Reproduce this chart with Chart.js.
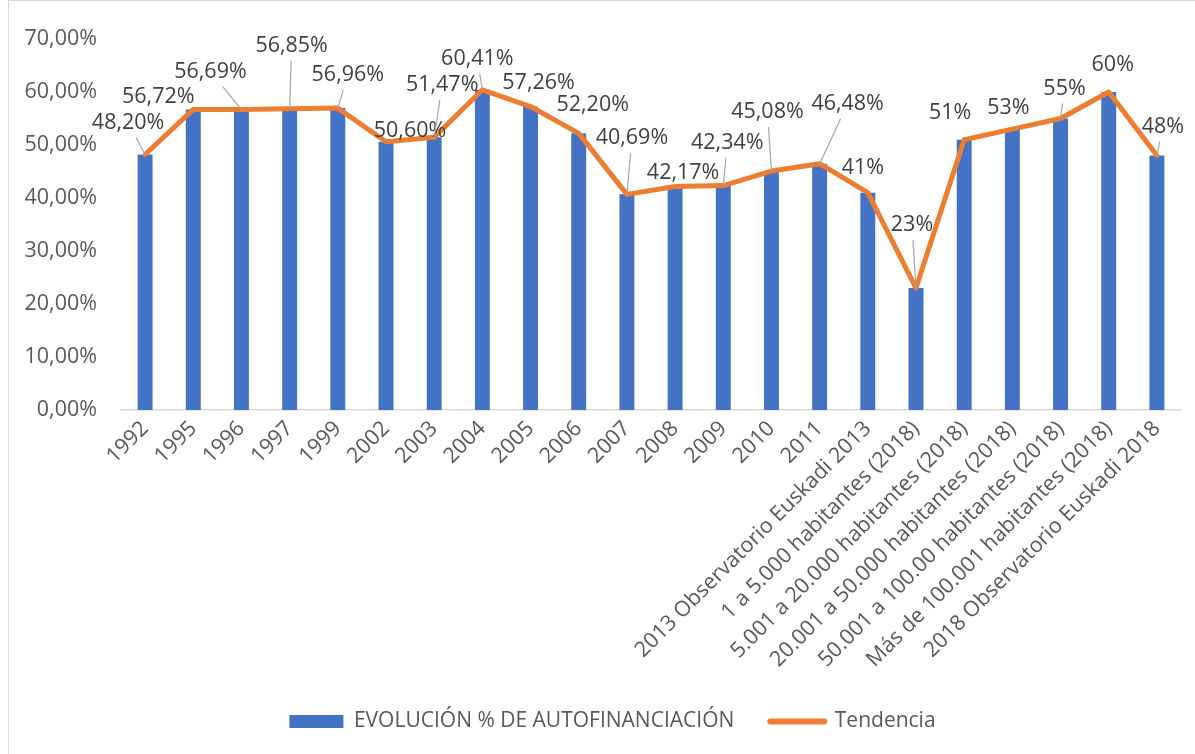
<!DOCTYPE html>
<html>
<head>
<meta charset="utf-8">
<script src="https://cdn.jsdelivr.net/npm/chart.js@4.4.1/dist/chart.umd.min.js"></script>
<style>
  html, body { margin: 0; padding: 0; background: #fff; }
  #wrap { position: relative; width: 1195px; height: 754px; overflow: hidden; }
  #frame { position: absolute; left: 8px; top: 0; width: 1200px; height: 760px; border: 1px solid #d9d9d9; }
  canvas { position: absolute; left: 0; top: 0; }
</style>
</head>
<body>
<div id="wrap">
  <div id="frame"></div>
  <canvas id="autofChart" width="1195" height="754"></canvas>
</div>
<script>
// Categories (years and population groups)
const categories = [
  '1992', '1995', '1996', '1997', '1999', '2002', '2003', '2004', '2005', '2006',
  '2007', '2008', '2009', '2010', '2011', '2013 Observatorio Euskadi 2013',
  '1 a 5.000 habitantes (2018)', '5.001 a 20.000 habitantes (2018)',
  '20.001 a 50.000 habitantes (2018)', '50.001 a 100.00 habitantes (2018)',
  'Más de 100.001 habitantes (2018)', '2018 Observatorio Euskadi 2018'
];

// % of self-financing
const autofinanciacion = [
  48.20, 56.72, 56.69, 56.85, 56.96, 50.60, 51.47, 60.41, 57.26, 52.20,
  40.69, 42.17, 42.34, 45.08, 46.48, 41, 23, 51, 53, 55, 60, 48
];

// Trend line follows the same values
const tendencia = autofinanciacion.slice();

const yTicks = [0, 10, 20, 30, 40, 50, 60, 70];

const FONT = '"Open Sans", "DejaVu Sans", sans-serif';
const FS = 21.5;
const TEXT = '#595959';
const PLOT_BOTTOM = 410;
const BOTTOM_PAD = 12;

function pct(v) {
  return Number.isInteger(v) ? v + '%' : v.toFixed(2).replace('.', ',') + '%';
}

// label placement around each point of the trend line (dx, dy in px) and leader lines
const labelOffsets = [
  [-17, -32], [-35, -13], [-31, -38], [2, -63], [10, -33], [24, -11], [8, -52],
  [-5, -31], [8, -24], [14, -28], [5, -56], [8, -14], [4, -43], [-4, -59],
  [28, -60], [-5, -25], [-4, -63], [-14, -27], [-4, -21], [4, -30], [4, -27], [6, -29]
];
const leaders = [
  true, false, true, true, true, false, true, true, false, false, true,
  false, true, true, true, false, true, false, false, true, false, true
];

const valueLabels = {
  id: 'valueLabels',
  afterDatasetsDraw(chart) {
    const ctx = chart.ctx;
    const meta = chart.getDatasetMeta(1);
    ctx.save();
    ctx.font = FS + 'px ' + FONT;
    ctx.textAlign = 'center';
    ctx.textBaseline = 'middle';
    meta.data.forEach((pt, i) => {
      const text = pct(tendencia[i]);
      const [dx, dy] = labelOffsets[i];
      const cx = pt.x + dx, cy = pt.y + dy;
      if (leaders[i]) {
        const hw = ctx.measureText(text).width / 2 + 3;
        const hh = 15;
        const vx = pt.x - cx, vy = pt.y - cy;
        const t = Math.min(vx ? Math.abs(hw / vx) : Infinity, vy ? Math.abs(hh / vy) : Infinity);
        if (t < 1) {
          ctx.strokeStyle = '#a6a6a6';
          ctx.lineWidth = 1.2;
          ctx.beginPath();
          ctx.moveTo(cx + vx * t, cy + vy * t);
          ctx.lineTo(pt.x, pt.y);
          ctx.stroke();
        }
      }
      ctx.fillStyle = '#404040';
      ctx.fillText(text, cx, cy);
    });
    ctx.restore();
  }
};

// nudge the legend a little to the right of the canvas centre
const legendShift = {
  id: 'legendShift',
  afterLayout(chart) {
    if (chart.legend) {
      chart.legend.left += 12;
      chart.legend.right += 12;
    }
  }
};

const ctx = document.getElementById('autofChart').getContext('2d');

new Chart(ctx, {
  type: 'bar',
  data: {
    labels: categories,
    datasets: [{
      type: 'bar',
      label: 'EVOLUCIÓN % DE AUTOFINANCIACIÓN',
      data: autofinanciacion,
      backgroundColor: '#4472c4',
      barPercentage: 0.31,
      categoryPercentage: 1,
      order: 2
    }, {
      type: 'line',
      label: 'Tendencia',
      data: tendencia,
      borderColor: '#ed7d31',
      borderWidth: 5,
      pointRadius: 0,
      tension: 0,
      borderJoinStyle: 'round',
      borderCapStyle: 'round',
      fill: false,
      order: 1
    }]
  },
  options: {
    responsive: false,
    animation: false,
    layout: { padding: { top: 39, left: 20, right: 14, bottom: BOTTOM_PAD } },
    plugins: {
      tooltip: { enabled: false },
      legend: {
        position: 'bottom',
        labels: {
          font: { family: FONT, size: 21 },
          color: TEXT,
          usePointStyle: true,
          pointStyleWidth: 54,
          boxHeight: 13,
          padding: 36,
          generateLabels() {
            return [{
              text: 'EVOLUCIÓN % DE AUTOFINANCIACIÓN',
              pointStyle: 'rect', fillStyle: '#4472c4', strokeStyle: '#4472c4',
              lineWidth: 0, fontColor: TEXT, datasetIndex: 0
            }, {
              text: 'Tendencia',
              pointStyle: 'line', fillStyle: '#ed7d31', strokeStyle: '#ed7d31',
              lineWidth: 6, lineCap: 'round', fontColor: TEXT, datasetIndex: 1
            }];
          }
        }
      }
    },
    scales: {
      x: {
        afterFit(scale) {
          const lg = scale.chart.legend;
          scale.height = scale.chart.height - BOTTOM_PAD - (lg ? lg.height : 0) - PLOT_BOTTOM;
        },
        grid: { display: false, drawTicks: false },
        border: { display: true, color: '#d9d9d9', width: 1.5 },
        ticks: {
          font: { family: FONT, size: FS },
          color: TEXT,
          maxRotation: 45,
          minRotation: 45,
          autoSkip: false,
          padding: 6
        }
      },
      y: {
        min: 0,
        max: 70,
        afterFit(scale) { scale.width = 101; },
        afterBuildTicks(scale) { scale.ticks = yTicks.map(v => ({ value: v })); },
        grid: { display: false, drawTicks: false },
        border: { display: false },
        ticks: {
          font: { family: FONT, size: FS },
          color: TEXT,
          padding: 24,
          callback: v => v.toFixed(2).replace('.', ',') + '%'
        }
      }
    }
  },
  plugins: [valueLabels, legendShift]
});
</script>
</body>
</html>
